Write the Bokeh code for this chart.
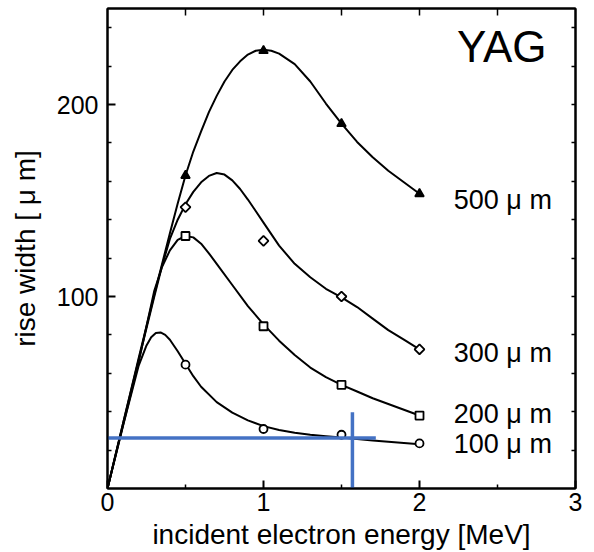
from bokeh.plotting import figure
from bokeh.embed import file_html
from bokeh.resources import INLINE
from bokeh.models import Range1d, FixedTicker, LinearAxis
from bokeh.core.properties import value
import math

# ---------------- data ----------------
energy_pts = [0.5, 1.0, 1.5, 2.0]
pts_500 = [163, 228, 190, 153.5]
pts_300 = [146.5, 129, 100, 72.5]
pts_200 = [131.5, 84.5, 54, 38]
pts_100 = [64.5, 31, 28, 23.5]

curve_x_500 = [0, 0.1, 0.2, 0.3, 0.4, 0.45, 0.5, 0.55, 0.6, 0.65, 0.7, 0.75, 0.8, 0.85, 0.9, 0.95, 1.0,
               1.05, 1.1, 1.2, 1.3, 1.4, 1.5, 1.6, 1.7, 1.8, 1.9, 2.0]
curve_y_500 = [0, 34, 68, 101, 133, 148.5, 163, 175.5, 186, 196, 204.5, 212, 218, 222.5, 226, 228, 228.5,
               228, 226.5, 221, 212, 200.5, 190, 180.5, 172.5, 165.5, 159.5, 153.5]

curve_x_300 = [0, 0.1, 0.2, 0.3, 0.35, 0.4, 0.45, 0.5, 0.55, 0.6, 0.65, 0.7, 0.75, 0.8, 0.85, 0.9, 0.95, 1.0,
               1.1, 1.2, 1.3, 1.4, 1.5, 1.6, 1.7, 1.8, 1.9, 2.0]
curve_y_300 = [0, 34, 67, 100, 116, 130, 140, 148, 154.5, 159.5, 162.8, 164.3, 163.5, 160.5, 156, 150.5, 144.5, 138.5,
               126.5, 117, 110, 104, 99.5, 94.5, 88.5, 82.5, 77.5, 72.5]

curve_x_200 = [0, 0.1, 0.2, 0.3, 0.35, 0.4, 0.45, 0.5, 0.55, 0.6, 0.65, 0.7, 0.8, 0.9, 1.0, 1.1, 1.2, 1.3, 1.4,
               1.5, 1.6, 1.7, 1.8, 1.9, 2.0]
curve_y_200 = [0, 33, 66, 103, 115.5, 124, 129.5, 131.5, 130.8, 127.5, 122.5, 117, 106, 95, 85.5, 77, 69.5, 63, 58,
               54, 50.5, 47, 44, 41, 38]

curve_x_100 = [0, 0.1, 0.2, 0.25, 0.28, 0.31, 0.34, 0.37, 0.4, 0.45, 0.5, 0.55, 0.6, 0.7, 0.8, 0.9, 1.0, 1.1, 1.2,
               1.3, 1.4, 1.5, 1.6, 1.7, 1.8, 1.9, 2.0]
curve_y_100 = [0, 33, 64, 74.5, 78.8, 81, 81.3, 80, 77.5, 71.5, 65, 58.5, 53, 45, 39.5, 35.5, 32.5, 30.5, 29,
               28, 27.2, 26.5, 25.8, 25, 24.3, 23.7, 23]

series_labels = ["500 \u03bc m", "300 \u03bc m", "200 \u03bc m", "100 \u03bc m"]

x_ticks = [0, 1, 2, 3]
x_minor = [0.5, 1.5, 2.5]
y_ticks = [100, 200]
y_minor = [20, 40, 60, 80, 120, 140, 160, 180, 220, 240]

# blue cross-hair annotation
hline_y = 26.3
hline_x = [-0.11, 1.72]
vline_x = 1.57
vline_y = [39.7, -3.1]

# ---------------- figure ----------------
FONT = "Liberation Sans"
p = figure(width=594, height=552, x_range=Range1d(0, 3), y_range=Range1d(0, 250),
           output_backend="svg", toolbar_location=None,
           min_border_left=107, min_border_right=19, min_border_top=8, min_border_bottom=61)
p.background_fill_color = "white"
p.border_fill_color = "white"
p.outline_line_color = "black"
p.outline_line_width = 2
p.xgrid.visible = False
p.ygrid.visible = False

for ax in (p.xaxis[0], p.yaxis[0]):
    ax.axis_line_width = 2
    ax.major_tick_in = 8
    ax.major_tick_out = 0
    ax.minor_tick_in = 4
    ax.minor_tick_out = 0
    ax.major_tick_line_width = 2
    ax.minor_tick_line_width = 1.5
    ax.major_label_text_font = FONT
    ax.major_label_text_font_size = "25px"
    ax.major_label_text_color = "black"
    ax.axis_label_text_font = FONT
    ax.axis_label_text_font_size = "28px"
    ax.axis_label_text_font_style = "normal"
    ax.axis_label_text_color = "black"

p.xaxis[0].ticker = FixedTicker(ticks=x_ticks, minor_ticks=x_minor)
p.yaxis[0].ticker = FixedTicker(ticks=y_ticks, minor_ticks=y_minor)
p.xaxis[0].axis_label = "incident electron energy [MeV]"
p.yaxis[0].axis_label = "rise width [ \u03bc m]"
p.xaxis[0].major_label_standoff = 4
p.yaxis[0].major_label_standoff = 9
p.xaxis[0].axis_label_standoff = 5
p.yaxis[0].axis_label_standoff = 13

# top / right axes: ticks only, no labels
top = LinearAxis(ticker=FixedTicker(ticks=[], minor_ticks=[0.5, 1, 1.5, 2, 2.5]))
right = LinearAxis(ticker=FixedTicker(ticks=[], minor_ticks=y_minor + [100, 200]))
top.minor_tick_in = 7
right.minor_tick_in = 4
for ax in (top, right):
    ax.axis_line_width = 2
    ax.major_tick_out = 0
    ax.minor_tick_out = 0
    ax.minor_tick_line_width = 1.5
p.add_layout(top, "above")
p.add_layout(right, "right")

# curves
for cx, cy in ((curve_x_500, curve_y_500), (curve_x_300, curve_y_300),
               (curve_x_200, curve_y_200), (curve_x_100, curve_y_100)):
    p.line(cx, cy, line_color="black", line_width=2, line_join="round")

# markers
p.scatter(energy_pts, pts_500, marker="triangle", size=9, fill_color="black", line_color="black", line_width=1.5)
p.scatter(energy_pts, pts_300, marker="square", angle=math.pi / 4, size=7, fill_color="white", line_color="black", line_width=1.8)
p.scatter(energy_pts, pts_200, marker="square", size=8, fill_color="white", line_color="black", line_width=1.8)
p.scatter(energy_pts, pts_100, marker="circle", size=8, fill_color="white", line_color="black", line_width=1.8)

# series labels
p.text(x=[2.22, 2.22, 2.22, 2.22], y=[150.5, 70.6, 38.7, 23.2], text=series_labels,
       text_font=value(FONT), text_font_size="27px", text_color="black",
       text_align="left", text_baseline="middle")
p.text(x=[2.24], y=[230.4], text=["YAG"], text_font=value(FONT), text_font_size="44px",
       text_color="black", text_align="left", text_baseline="middle")

# blue cross-hair
blue = "#4472C4"
p.line(hline_x, [hline_y, hline_y], line_color=blue, line_width=3.5)
p.line([vline_x, vline_x], vline_y, line_color=blue, line_width=3.5)

open("out.html", "w").write(file_html(p, INLINE))
